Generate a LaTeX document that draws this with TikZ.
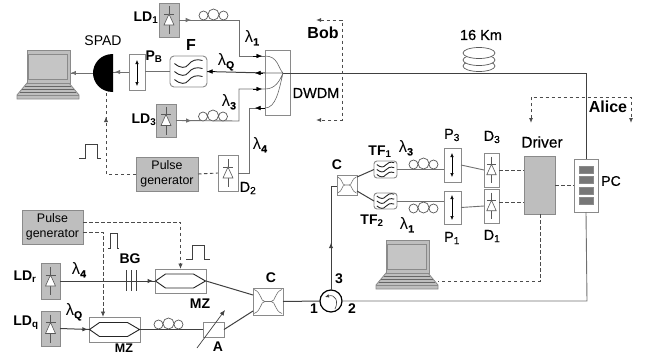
\documentclass[tikz,border=0pt]{standalone}
\usepackage{fontspec}
\setmainfont{Liberation Sans}
\newfontfamily\medf[FakeBold=0.5]{Liberation Sans}
\usetikzlibrary{arrows.meta,decorations.markings,calc}
\definecolor{fillg}{HTML}{BEBEBE}
\definecolor{edgeg}{HTML}{8A8A8A}
\definecolor{ling}{HTML}{707070}
\definecolor{darkbar}{HTML}{777777}
\newcommand{\bx}[6]{\pgfmathsetmacro\bxcx{(#3+#5)/2}\pgfmathsetmacro\bxcy{(#4+#6)/2}\pgfmathsetmacro\bxw{#5-#3}\pgfmathsetmacro\bxh{#6-#4}\node[#1,minimum width=\bxw pt,minimum height=\bxh pt] (#2) at (\bxcx,\bxcy) {};}
\newcommand{\lam}[1]{{\fontsize{16.5}{16}\selectfont\mdseries λ}\raisebox{-3pt}{\medf\fontsize{10.5}{10.5}\selectfont #1}}
\tikzset{
 x=1pt,y=-1pt,
 base/.style={inner sep=0,outer sep=0,rectangle},
 graybox/.style={base,draw=edgeg,fill=fillg,line width=.9pt},
 whitebox/.style={base,draw=edgeg,fill=white,line width=.9pt},
 hidden/.style={base},
 fib/.style={draw=ling,line width=.9pt},
 darkfib/.style={draw=black!75,line width=1pt},
 sig/.style={draw=black!70,line width=.9pt,dash pattern=on 3.5pt off 2.5pt},
 tipa/.style={-{Latex[length=5.5pt,width=4.5pt]},black},
 arr at/.style={postaction={decorate,decoration={markings,mark=at position #1 with {\arrow{Latex[length=5.5pt,width=4.5pt]}}}}},
 lbl/.style={inner sep=0,font=\medf\fontsize{14.5}{14.5}\selectfont},
 bl/.style={inner sep=0,font=\fontsize{14}{14}\selectfont\bfseries},
 big/.style={inner sep=0,font=\fontsize{16}{16}\selectfont\bfseries},
 gen/.style={inner sep=0,align=center,font=\fontsize{12.4}{14.5}\selectfont},
 pol/.style={{Latex[length=4pt,width=3.6pt]}-{Latex[length=4pt,width=3.6pt]},line width=.6pt},
 diode/.pic={\draw[draw=black!65,line width=.6pt] (0,-14)--(0,14) (-5,-6)--(5,-6);
  \draw[draw=black!65,fill=white,line width=.6pt] (0,-6)--(5,5)--(-5,5)--cycle;},
 coil/.pic={\draw[draw=black!65,line width=.7pt,fill=white] (-10,.5) circle[radius=4.5] (10,.5) circle[radius=4.5] (0,-.5) circle[radius=5.5];},
 wave/.pic={\foreach \yy in {-8,0,8}{\draw[black!85,line width=.9pt] (-14,\yy) .. controls (-8,\yy+5) and (-3,\yy+5) .. (0,\yy+1) .. controls (3,\yy-3) and (8,\yy-5) .. (14,\yy-3);}},
 coupler/.pic={\draw[draw=black!55,line width=.6pt] (-14,-12) .. controls (-6,-9) and (-8,0) .. (-3,0) -- (3,0) .. controls (8,0) and (6,-9) .. (14,-12)
   (-14,12) .. controls (-6,9) and (-8,0) .. (-3,0) (3,0) .. controls (8,0) and (6,9) .. (14,12);},
 hexa/.pic={\draw[draw=black!85,line width=.9pt] (-25,0)--(-15,-7)--(13,-7)--(25,0)--(13,7)--(-15,7)--cycle;},
 laptop/.pic={
  \draw[draw=edgeg,fill=fillg,line width=.8pt] (27,83)--(69,83)--(79,95)--(79,99)--(17,99)--(17,95)--cycle;
  \draw[draw=edgeg,line width=.6pt] (17,95)--(79,95);
  \draw[draw=black!60,line width=.8pt] (25,86)--(71,86) (22,89)--(74,89) (20,92)--(76,92);
  \draw[draw=edgeg,fill=fillg,line width=.9pt] (27,50) rectangle (70,83);
  \draw[draw=edgeg,fill=fillg!90!white,line width=.7pt] (28.5,54) rectangle (67,79);}
}
\begin{document}
\begin{tikzpicture}
\useasboundingbox (0,0) rectangle (654,354);
\clip (0,0) rectangle (654,354);
% ---- boxes
\bx{graybox}{ld1}{159}{3}{179}{37}
\bx{graybox}{ld3}{156}{104}{176}{137}
\bx{graybox}{ldr}{41}{263}{60}{299}
\bx{graybox}{ldq}{41}{311}{60}{346}
\bx{whitebox}{d2}{218}{155}{238}{191}
\bx{whitebox}{d3}{484}{153}{499}{187}
\bx{whitebox}{d1}{484}{189}{499}{223}
\bx{whitebox}{pb}{129}{54}{145}{90}
\bx{whitebox}{p3}{444}{148}{461}{182}
\bx{whitebox}{p1}{444}{191}{461}{224}
\bx{whitebox}{dwdm}{265}{50}{290}{115}
\bx{whitebox}{mz1}{155}{269}{206}{293}
\bx{whitebox}{mz2}{89}{317}{140}{342}
\bx{whitebox}{cbig}{253}{288}{283}{315}
\bx{whitebox}{csm}{337}{175}{357}{195}
\bx{whitebox}{att}{203}{322}{224}{337}
\bx{graybox}{driver}{524}{156}{555}{214}
\bx{whitebox}{pc}{574}{159}{598}{212}
\bx{graybox}{pg1}{136}{157}{198}{191}
\bx{graybox}{pg2}{22}{210}{83}{244}
\bx{hidden}{spad}{93}{54}{113}{92}
\bx{whitebox,rounded corners=4pt}{filt}{170}{56}{207}{87}
\bx{whitebox,rounded corners=3pt}{tf1}{374}{161}{397}{178}
\bx{whitebox,rounded corners=3pt}{tf2}{374}{193}{397}{209}
\node[circle,draw=black,line width=1.2pt,fill=white,minimum size=22pt,inner sep=0,outer sep=0] (circ) at (331,301) {};
% ---- named bend and free-end points
\coordinate (b1) at (239,20);
\coordinate (b3) at (239,121);
\coordinate (dw1) at (dwdm.west|-0,56);
\coordinate (dwq) at (dwdm.west|-0,73);
\coordinate (dw3) at (dwdm.west|-0,89);
\coordinate (dw4) at (dwdm.west|-0,108);
\coordinate (tipp) at (283,73);
\coordinate (b4) at (249,173);
\coordinate (afar) at (586,73);
\coordinate (sbl) at (106,174);
% ---- fibres
\draw[fib,arr at=.1] (ld1.east) -- (b1) |- (dw1);
\draw[tipa] ($(dw1)+(-12,0)$) -- ($(dw1)+(-3,0)$);
\draw[fib,arr at=.13] (ld3.east) -- (b3) |- (dw3);
\draw[tipa] ($(dw3)+(-12,0)$) -- ($(dw3)+(-3,0)$);
\draw[fib] (d2.east|-b4) -- (b4) |- (dw4);
\draw[tipa] (dw4) -- ($(dw4)+(-10,0)$);
\draw[darkfib] (dwq) -- (filt.east);
\draw[tipa] ($(dwq)+(-2,0)$) -- ($(dwq)+(-10,0)$);
\draw[tipa] ($(filt.east)+(8,0)$) -- (filt.east);
\draw[fib] (filt.west) -- (pb.east|-filt.west);
\draw[fib,arr at=.9] (pb.west) -- (spad.east|-pb.west);
\draw[fib,arr at=.98] (spad.west) -- (70,73);
\draw[darkfib] (tipp) -- (afar) -- (pc.north);
\draw[black!60,line width=.6pt] (dw1) .. controls (278,56) and (278,68) .. (tipp)
  (dwq) -- (tipp)
  (dw3) .. controls (276,89) and (280,80) .. (tipp)
  (dw4) .. controls (276,108) and (279,90) .. (tipp);
% Alice side
\draw[fib] (circ.east) -- (587,301) -- (pc.south);
\draw[darkfib,arr at=.43] (circ.north) -- (331,186) -- (csm.west|-0,186);
\draw[darkfib] (csm.east|-0,177) -- (tf1.west);
\draw[darkfib] (csm.east|-0,191) -- (tf2.west);
\draw[fib] (tf1.east) -- (p3.west|-tf1.east);
\draw[fib] (tf2.east) -- (p1.west|-tf2.east);
\draw[fib] (p3.east) -- (d3.west);
\draw[fib] (p1.east) -- (d1.west);
% Transmit side
\draw[darkfib,arr at=.98] (ldr.east) -- (mz1.west);
\draw[darkfib,arr at=.96] (ldq.east) -- (mz2.west);
\draw[darkfib] (mz2.east) -- (att.west);
\draw[darkfib] (mz1.east) -- (cbig.west|-0,295);
\draw[darkfib] (att.east) -- (cbig.west|-0,311);
\draw[darkfib] (cbig.east) -- (circ.west);
% ---- signals
\draw[sig] (pg1.east) -- (d2.west);
\draw[sig,arr at=.78] (pg1.west) -- (sbl) -- (sbl|-spad.south);
\draw[sig,-{Latex[length=5.5pt,width=4.5pt]}] (pg2.east|-0,222) -| (mz1.north);
\draw[sig,-{Latex[length=5.5pt,width=4.5pt]}] (pg2.east|-0,232) -- (103,232) -- (103,317);
\draw[sig] (d3.east) -- (driver.west|-d3.east);
\draw[sig] (d1.east|-0,202) -- (driver.west|-0,202);
\draw[sig] (driver.east|-pc.west) -- (pc.west);
\draw[sig] (540,214) -- (540,281) -- (438,281);
% Bob and Alice brackets
\coordinate (bobtop) at (316,20); \coordinate (bobbot) at (316,120);
\draw[sig,{Latex[length=5pt,width=4pt]}-{Latex[length=5pt,width=4pt]}] (bobtop) -- (342,20) -- (342,120) -- (bobbot);
\coordinate (altl) at (531,123); \coordinate (altr) at (631,123);
\draw[sig,{Latex[length=5pt,width=4pt]}-{Latex[length=5pt,width=4pt]}] (altl) -- (531,97) -- (631,97) -- (altr);
% ---- SPAD
\fill[black] (113,54) .. controls (100,54) and (93,64) .. (93,73) .. controls (93,82) and (100,92) .. (113,92) -- cycle;
% ---- symbols
\pic at (ld1) {diode}; \pic at (ld3) {diode}; \pic at (ldr) {diode}; \pic at (ldq) {diode};
\pic at (d2) {diode};
\pic[scale=.95] at (d3) {diode}; \pic[scale=.95] at (d1) {diode};
\pic at (213.5,15) {coil}; \pic at (213,116) {coil};
\pic at (423.5,164) {coil}; \pic at (423.5,208) {coil}; \pic at (168.5,324) {coil};
\pic at (filt) {wave};
\pic[scale=.62] at (tf1) {wave}; \pic[scale=.62] at (tf2) {wave};
\pic at (cbig) {coupler}; \pic[scale=.68] at (csm) {coupler};
\pic at (mz1) {hexa}; \pic at (mz2) {hexa};
\pic at (0,0) {laptop}; \pic at (359,190) {laptop};
% polariser arrows
\draw[pol] (137,60) -- (137,86);
\draw[pol] (452,153) -- (452,177);
\draw[pol] (452,195) -- (452,220);
% Bragg grating
\draw[black!75,line width=.9pt] (126,270)--(126,291) (131,270)--(131,291) (136,270)--(136,291);
% attenuator arrow
\coordinate (atts) at (197,348); \coordinate (atte) at (225,310);
\draw[black!75,line width=.7pt,-{Latex[length=5.5pt,width=4.5pt]}] (atts) -- (atte);
% circulator arrow
\draw[black!75,line width=.6pt,-{Latex[length=4pt,width=3.5pt]}] (335,309) .. controls (339,301) and (335,294) .. (325,297);
% PC bars
\foreach \yy in {166,176.5,187,197}{\draw[draw=edgeg,fill=darkbar,line width=.6pt] (579,\yy) rectangle (593,\yy+7);}
% 16 km spool
\foreach \yy in {66,60,53}{\draw[draw=black!65,fill=white,line width=.7pt] (479,\yy) ellipse[x radius=16,y radius=5.5];}
% pulse shapes
\coordinate (ps1) at (79,158);
\draw[black!75,line width=.8pt] (ps1) -- (85,158) -- (85,144) -- (97,144) -- (97,158) -- (101,158);
\coordinate (ps2) at (108,248);
\draw[black!75,line width=.8pt] (ps2) -- (110,248) -- (110,233) -- (117,233) -- (117,248) -- (119,248);
\coordinate (ps3) at (186,259);
\draw[black!75,line width=.8pt] (ps3) -- (192,259) -- (192,245) -- (204,245) -- (204,259) -- (210,259);
% ---- texts
\node[bl] (tld1) at (146,18) {LD\textsubscript{1}};
\node[bl] (tld3) at (144,120) {LD\textsubscript{3}};
\node[bl] (tldr) at (25,277) {LD\textsubscript{r}};
\node[bl] (tldq) at (26,323) {LD\textsubscript{q}};
\node[lbl,font=\fontsize{14}{14}\selectfont] (tspad) at (103,41) {SPAD};
\node[bl] (tpb) at (154,57) {P\textsubscript{B}};
\node[big] (tf) at (191,45) {F};
\node[bl] (tl1) at (252,38) {\lam{1}};
\node[bl] (tlq) at (226,62) {\lam{Q}};
\node[bl] (tl3) at (229,102) {\lam{3}};
\node[bl] (tl4) at (260,145) {\lam{4}};
\node[big] (tbob) at (323,33) {Bob};
\node[lbl] (tdw) at (316,93) {DWDM};
\node[lbl] (tkm) at (481,35) {16 Km};
\node[big] (talice) at (608,107) {Alice};
\node[lbl,font=\medf\fontsize{15.5}{15.5}\selectfont] (tdrv) at (542,142) {Driver};
\node[lbl,font=\medf\fontsize{14}{14}\selectfont] (tpc) at (611,181) {PC};
\node[lbl] (tp3) at (452,135) {P\textsubscript{3}};
\node[lbl] (td3) at (492,137) {D\textsubscript{3}};
\node[lbl] (tp1) at (452,238) {P\textsubscript{1}};
\node[lbl] (td1) at (492,236) {D\textsubscript{1}};
\node[bl] (ttf1) at (380,152) {TF\textsubscript{1}};
\node[bl] (ttf2) at (372,221) {TF\textsubscript{2}};
\node[bl] (tl31) at (406,148) {\lam{3}};
\node[bl] (tl11) at (407,225) {\lam{1}};
\node[bl] (tc1) at (337,165) {C};
\node[bl] (tc2) at (271,278) {C};
\node[lbl] (td2) at (248,188) {D\textsubscript{2}};
\node[gen] (tg1) at (pg1) {Pulse\\generator};
\node[gen] (tg2) at (pg2) {Pulse\\generator};
\node[bl] (tl42) at (79,270) {\lam{4}};
\node[bl] (tlq2) at (74,312) {\lam{Q}};
\node[bl] (tbg) at (130,259) {BG};
\node[bl] (tmz1) at (200,304) {MZ};
\node[bl,font=\fontsize{12.5}{12.5}\selectfont\bfseries] (tmz2) at (124,348.5) {MZ};
\node[bl] (ta) at (218,347) {A};
\node[bl] (t1) at (314,309) {1};
\node[bl] (t2) at (352,309) {2};
\node[bl] (t3) at (339,279) {3};
\end{tikzpicture}
\end{document}
